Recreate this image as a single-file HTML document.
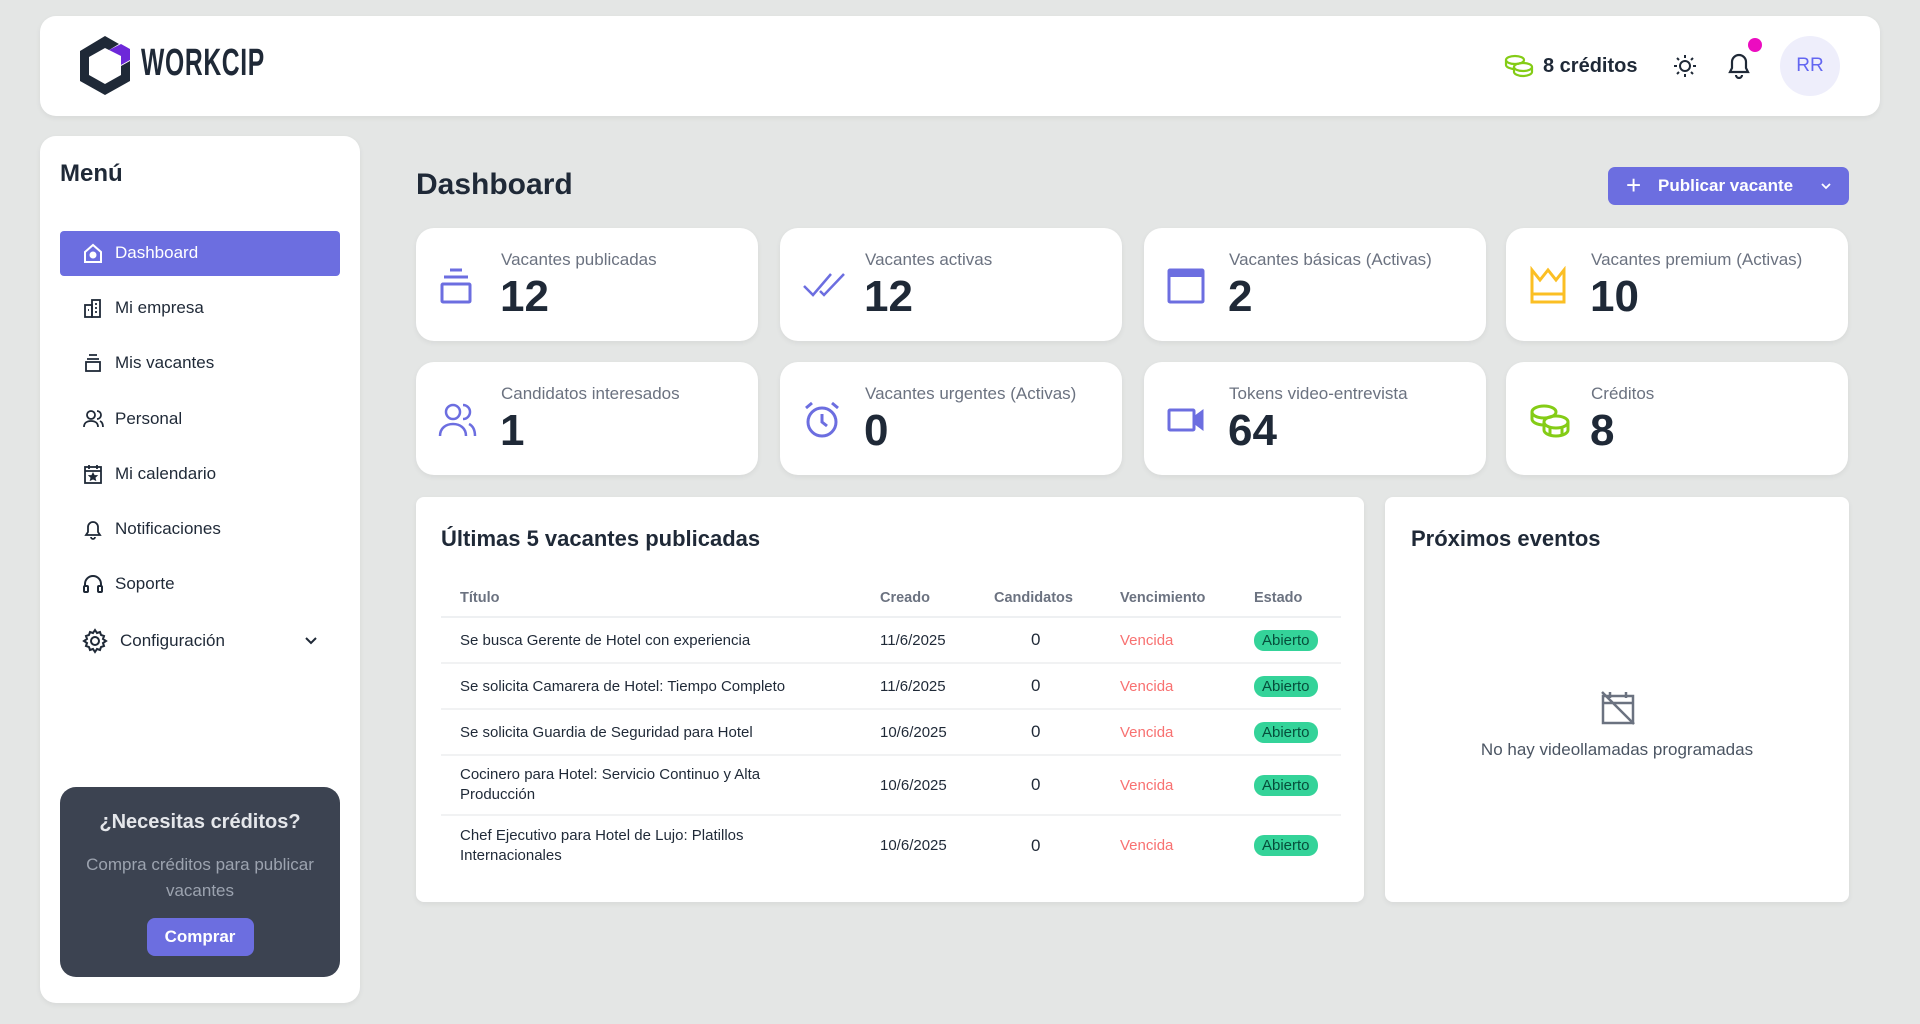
<!DOCTYPE html>
<html><head><meta charset="utf-8"><style>
*{box-sizing:border-box;margin:0;padding:0}
body{width:1920px;height:1024px;background:#e4e6e5;font-family:"Liberation Sans",sans-serif;color:#1f2937;position:relative;overflow:hidden}
.card{position:absolute;background:#fff;border-radius:16px;box-shadow:0 2px 6px rgba(0,0,0,.06)}
.abs{position:absolute}
.menu-item{position:absolute;left:60px;width:280px;height:45px;display:flex;align-items:center;font-size:17px;color:#1f2937}
.menu-item svg{position:absolute;left:22px}
.menu-item span{position:absolute;left:55px}
.stat{position:absolute;width:342px;height:113px;background:#fff;border-radius:18px;box-shadow:0 2px 6px rgba(0,0,0,.06)}
.stat .lbl{position:absolute;left:85px;top:22px;font-size:17px;color:#6b7280;white-space:nowrap}
.stat .num{position:absolute;left:84px;top:44px;font-size:44px;font-weight:bold;color:#1f2937}
.stat svg{position:absolute;left:22px;top:38px}
table{position:absolute;left:441px;top:580px;width:900px;border-collapse:collapse;font-size:15px}
th{font-size:14.5px;color:#6b7280;text-align:left;height:37px;font-weight:bold;border-bottom:2px solid #eef0f2}
td{border-bottom:2px solid #f1f2f3;color:#1f2937;vertical-align:middle}
td.c{text-align:left;padding-left:37px;font-size:17px}
.v{color:#f87171}
.b{display:inline-block;background:#34d399;color:#064e3b;border-radius:10px;padding:2px 8px;font-size:15px}
</style></head><body>
<!-- header -->
<div class="card" style="left:40px;top:16px;width:1840px;height:100px;border-radius:16px"></div>
<svg class="abs" style="left:79px;top:36px" width="52" height="60" viewBox="0 0 52 60"><polygon points="26,0 40,8 30,14 26,12 10,21 10,39 26,48 42,39 42,30 51,25 51,45 26,59 1,45 1,15" fill="#1f2937"/><polygon points="30,14 42,8 51,13 51,24 42,29 42,20" fill="#6d28d9"/></svg>
<div class="abs" style="left:141px;top:42px;font-size:38px;font-weight:bold;color:#1f2937;transform:scaleX(.65);transform-origin:left;letter-spacing:1px">WORKCIP</div>
<svg class="abs" style="left:1504px;top:54px" width="30" height="24" viewBox="0 0 30 24" fill="none" stroke="#84cc16" stroke-width="2.2"><ellipse cx="11" cy="6" rx="9" ry="4"/><path d="M2 6v5c0 2 4 4 9 4"/><ellipse cx="19" cy="13" rx="9" ry="4"/><path d="M10 13v5c0 2 4 4 9 4s9-2 9-4v-5"/></svg>
<div class="abs" style="left:1543px;top:55px;font-size:20px;font-weight:bold">8 créditos</div>
<svg class="abs" style="left:1672px;top:53px" width="26" height="26" viewBox="0 0 26 26" fill="none" stroke="#1f2937" stroke-width="2"><circle cx="13" cy="13" r="5"/><path d="M13 2v3M13 21v3M2 13h3M21 13h3M5 5l2 2M19 19l2 2M5 21l2-2M19 7l2-2"/></svg>
<svg class="abs" style="left:1726px;top:51px" width="26" height="28" viewBox="0 0 26 28" fill="none" stroke="#1f2937" stroke-width="2.2"><path d="M4 21h18l-2-4v-6a7 7 0 0 0-14 0v6z"/><path d="M10 24a3 3 0 0 0 6 0"/></svg>
<div class="abs" style="left:1748px;top:38px;width:14px;height:14px;border-radius:50%;background:#ec0cc0"></div>
<div class="abs" style="left:1780px;top:36px;width:60px;height:60px;border-radius:50%;background:#eeeefb;color:#6366f1;font-size:19px;line-height:60px;text-align:center">RR</div>

<!-- sidebar -->
<div class="card" style="left:40px;top:136px;width:320px;height:867px"></div>
<div class="abs" style="left:60px;top:160px;font-size:24px;font-weight:bold">Menú</div>
<div class="abs" style="left:60px;top:231px;width:280px;height:45px;background:#6c6ee0;border-radius:4px"></div>
<div class="menu-item" style="top:230px;color:#fff"><svg width="22" height="22" viewBox="0 0 22 22" fill="none" stroke="#fff" stroke-width="2"><path d="M3 10l8-7 8 7v10H3z"/><circle cx="11" cy="13" r="2.5" fill="#fff"/></svg><span>Dashboard</span></div>
<div class="menu-item" style="top:285px"><svg width="22" height="22" viewBox="0 0 22 22" fill="none" stroke="#1f2937" stroke-width="1.8"><rect x="3" y="8" width="7" height="12"/><rect x="10" y="3" width="8" height="17"/><path d="M13 7h2M13 11h2M13 15h2M6 13h1"/></svg><span>Mi empresa</span></div>
<div class="menu-item" style="top:340px"><svg width="22" height="22" viewBox="0 0 22 22" fill="none" stroke="#1f2937" stroke-width="1.8"><path d="M7 3h8M5 7h12"/><rect x="4" y="10" width="14" height="9"/></svg><span>Mis vacantes</span></div>
<div class="menu-item" style="top:396px"><svg width="22" height="22" viewBox="0 0 22 22" fill="none" stroke="#1f2937" stroke-width="1.8"><circle cx="9" cy="7" r="4"/><path d="M2 19c0-4 3-6 7-6s7 2 7 6M15 3a4 4 0 0 1 0 8M18 13c2 1 3 3 3 6"/></svg><span>Personal</span></div>
<div class="menu-item" style="top:451px"><svg width="22" height="22" viewBox="0 0 22 22" fill="none" stroke="#1f2937" stroke-width="1.8"><rect x="3" y="4" width="16" height="16"/><path d="M3 8h16M7 2v4M15 2v4"/><path d="M11 11l1 2h2l-1.5 1.5.5 2-2-1-2 1 .5-2L8 13h2z" fill="#1f2937"/></svg><span>Mi calendario</span></div>
<div class="menu-item" style="top:506px"><svg width="22" height="22" viewBox="0 0 22 22" fill="none" stroke="#1f2937" stroke-width="1.8"><path d="M4 17h14l-2-3V9a5 5 0 0 0-10 0v5z"/><path d="M9 19a2 2 0 0 0 4 0"/></svg><span>Notificaciones</span></div>
<div class="menu-item" style="top:561px"><svg width="22" height="22" viewBox="0 0 22 22" fill="none" stroke="#1f2937" stroke-width="2"><path d="M3 14v-3a8 8 0 0 1 16 0v3"/><rect x="2" y="13" width="4" height="6" rx="1"/><rect x="16" y="13" width="4" height="6" rx="1"/></svg><span>Soporte</span></div>
<div class="menu-item" style="top:618px"><svg width="26" height="26" viewBox="0 0 26 26" fill="none" stroke="#1f2937" stroke-width="2"><circle cx="13" cy="13" r="4"/><path d="M13 2l2 3 3-1 1 3 3 1-1 3 3 2-3 2 1 3-3 1-1 3-3-1-2 3-2-3-3 1-1-3-3-1 1-3-3-2 3-2-1-3 3-1 1-3 3 1z"/></svg><span style="left:60px">Configuración</span><svg style="left:244px" width="14" height="10" viewBox="0 0 14 10" fill="none" stroke="#1f2937" stroke-width="2"><path d="M2 2l5 5 5-5"/></svg></div>
<div class="abs" style="left:60px;top:787px;width:280px;height:190px;background:#3c4351;border-radius:16px;text-align:center">
<div style="margin-top:24px;font-size:20px;font-weight:bold;color:#e5e7eb">¿Necesitas créditos?</div>
<div style="margin-top:18px;font-size:17px;line-height:26px;color:#9ca3af">Compra créditos para publicar<br>vacantes</div>
<div style="margin:14px auto 0;width:107px;height:38px;background:#6c6ee0;border-radius:8px;color:#fff;font-weight:bold;font-size:17px;line-height:38px">Comprar</div>
</div>

<!-- main -->
<div class="abs" style="left:416px;top:168px;font-size:30px;font-weight:bold">Dashboard</div>
<div class="abs" style="left:1608px;top:167px;width:241px;height:38px;background:#6c6ee0;border-radius:7px;color:#fff;font-weight:bold;font-size:17px;line-height:38px"><span style="position:absolute;left:18px;font-size:26px;font-weight:normal;top:-1px">+</span><span style="position:absolute;left:50px">Publicar vacante</span><svg style="position:absolute;left:213px;top:16px" width="10" height="7" viewBox="0 0 10 7" fill="none" stroke="#fff" stroke-width="1.8"><path d="M1 1l4 4 4-4"/></svg></div>

<div class="stat" style="left:416px;top:228px"><svg width="36" height="40" viewBox="0 0 36 40" fill="none" stroke="#6c6ee0" stroke-width="3"><path d="M12 4h12M6 11h24"/><rect x="4" y="18" width="28" height="18" rx="1"/></svg><div class="lbl">Vacantes publicadas</div><div class="num">12</div></div>
<div class="stat" style="left:780px;top:228px"><svg width="44" height="40" viewBox="0 0 44 40" fill="none" stroke="#6c6ee0" stroke-width="2.5"><path d="M2 20l9 9L29 8M18 25l4 4L42 8"/></svg><div class="lbl">Vacantes activas</div><div class="num">12</div></div>
<div class="stat" style="left:1144px;top:228px"><svg width="40" height="40" viewBox="0 0 40 40" fill="none" stroke="#6c6ee0" stroke-width="3"><rect x="3" y="4" width="34" height="32" rx="1"/><path d="M3 8h34" stroke-width="6"/></svg><div class="lbl">Vacantes básicas (Activas)</div><div class="num">2</div></div>
<div class="stat" style="left:1506px;top:228px"><svg width="40" height="40" viewBox="0 0 40 40" fill="none" stroke="#fbbf24" stroke-width="3"><path d="M4 4l8 10 8-10 8 10 8-10v32H4z"/><path d="M4 28h32"/></svg><div class="lbl">Vacantes premium (Activas)</div><div class="num">10</div></div>

<div class="stat" style="left:416px;top:362px"><svg width="40" height="40" viewBox="0 0 40 40" fill="none" stroke="#6c6ee0" stroke-width="2.5"><circle cx="15" cy="12" r="7"/><path d="M2 36c0-8 6-12 13-12s13 4 13 12M25 5a7 7 0 0 1 0 14M31 24c4 2 6 6 6 12"/></svg><div class="lbl">Candidatos interesados</div><div class="num">1</div></div>
<div class="stat" style="left:780px;top:362px"><svg width="40" height="40" viewBox="0 0 40 40" fill="none" stroke="#6c6ee0" stroke-width="3"><circle cx="20" cy="22" r="14"/><path d="M20 14v8l5 4M4 8l6-5M36 8l-6-5"/></svg><div class="lbl">Vacantes urgentes (Activas)</div><div class="num">0</div></div>
<div class="stat" style="left:1144px;top:362px"><svg width="40" height="40" viewBox="0 0 40 40" fill="none" stroke="#6c6ee0" stroke-width="3"><rect x="3" y="10" width="25" height="20" rx="1"/><path d="M28 18l8-6v16l-8-6z" fill="#6c6ee0"/></svg><div class="lbl">Tokens video-entrevista</div><div class="num">64</div></div>
<div class="stat" style="left:1506px;top:362px"><svg width="44" height="40" viewBox="0 0 44 40" fill="none" stroke="#84cc16" stroke-width="3"><ellipse cx="16" cy="12" rx="12" ry="6"/><path d="M4 12v7c0 3 5 6 12 6"/><ellipse cx="28" cy="22" rx="12" ry="6"/><path d="M16 22v8c0 3 5 6 12 6s12-3 12-6v-8M22 27v8M34 27v8"/></svg><div class="lbl">Créditos</div><div class="num">8</div></div>

<div class="card" style="left:416px;top:497px;width:948px;height:405px;border-radius:8px"></div>
<div class="abs" style="left:441px;top:526px;font-size:22px;font-weight:bold">Últimas 5 vacantes publicadas</div>
<table>
<tr><th style="padding-left:19px;width:439px">Título</th><th style="width:114px">Creado</th><th style="width:126px">Candidatos</th><th style="width:134px">Vencimiento</th><th>Estado</th></tr>
<tr style="height:46px"><td style="padding-left:19px">Se busca Gerente de Hotel con experiencia</td><td>11/6/2025</td><td class="c">0</td><td class="v">Vencida</td><td><span class="b">Abierto</span></td></tr>
<tr style="height:46px"><td style="padding-left:19px">Se solicita Camarera de Hotel: Tiempo Completo</td><td>11/6/2025</td><td class="c">0</td><td class="v">Vencida</td><td><span class="b">Abierto</span></td></tr>
<tr style="height:46px"><td style="padding-left:19px">Se solicita Guardia de Seguridad para Hotel</td><td>10/6/2025</td><td class="c">0</td><td class="v">Vencida</td><td><span class="b">Abierto</span></td></tr>
<tr style="height:60px"><td style="padding-left:19px;line-height:20px">Cocinero para Hotel: Servicio Continuo y Alta<br>Producción</td><td>10/6/2025</td><td class="c">0</td><td class="v">Vencida</td><td><span class="b">Abierto</span></td></tr>
<tr style="height:60px"><td style="padding-left:19px;line-height:20px;border:none">Chef Ejecutivo para Hotel de Lujo: Platillos<br>Internacionales</td><td style="border:none">10/6/2025</td><td class="c" style="border:none">0</td><td class="v" style="border:none">Vencida</td><td style="border:none"><span class="b">Abierto</span></td></tr>
</table>

<div class="card" style="left:1385px;top:497px;width:464px;height:405px;border-radius:8px"></div>
<div class="abs" style="left:1411px;top:526px;font-size:22px;font-weight:bold">Próximos eventos</div>
<svg class="abs" style="left:1600px;top:690px" width="36" height="36" viewBox="0 0 36 36" fill="none" stroke="#6b7280" stroke-width="2.5"><rect x="3" y="6" width="30" height="27"/><path d="M3 13h30M10 2v6M26 2v6M2 2l32 32"/></svg>
<div class="abs" style="left:1385px;top:740px;width:464px;text-align:center;font-size:17px;color:#4b5563">No hay videollamadas programadas</div>
</body></html>
